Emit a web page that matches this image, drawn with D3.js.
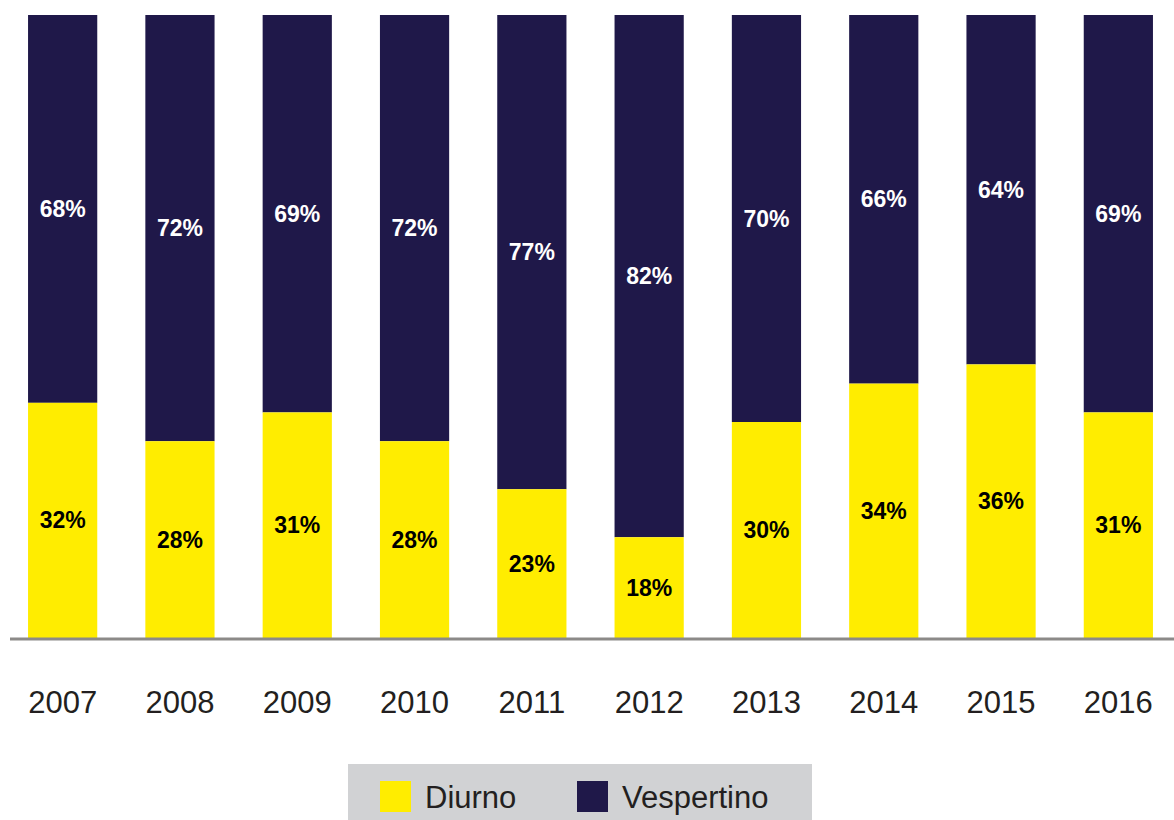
<!DOCTYPE html>
<html>
<head>
<meta charset="utf-8">
<script src="https://cdn.jsdelivr.net/npm/d3@7"></script>
<style>
  body { margin: 0; background: #fff; }
  text { font-family: "Liberation Sans", Arial, sans-serif; }
</style>
</head>
<body>
<div id="chart"></div>
<script>
// Data
var years = ["2007", "2008", "2009", "2010", "2011", "2012", "2013", "2014", "2015", "2016"];
var diurno = [32, 28, 31, 28, 23, 18, 30, 34, 36, 31];
var vespertino = [68, 72, 69, 72, 77, 82, 70, 66, 64, 69];
var seriesNames = ["Diurno", "Vespertino"];
var colors = ["#ffed00", "#1f1849"];

var width = 1174, height = 820;
var baseY = 638, topY = 15;

var svg = d3.select("#chart")
    .append("svg")
    .attr("width", width)
    .attr("height", height);

// x scale
var x = d3.scaleBand()
    .domain(years)
    .range([4, 1177])
    .paddingInner(0.41)
    .paddingOuter(0.205);

// y scale (the original chart's axis does not start at zero, tops are cut off)
var y = d3.scaleLinear()
    .domain([7.5, 72.4])
    .range([baseY, topY])
    .clamp(true);

var rows = years.map(function (yr, i) {
    return {year: yr, d: diurno[i], v: vespertino[i]};
});

// Vespertino (stacked on top)
svg.selectAll("rect.vesp")
    .data(rows)
    .enter()
    .append("rect")
    .attr("class", "vesp")
    .attr("x", function (d) { return x(d.year); })
    .attr("width", x.bandwidth())
    .attr("y", function (d) { return y(d.d + d.v); })
    .attr("height", function (d) { return y(d.d) - y(d.d + d.v); })
    .attr("fill", colors[1]);

// Diurno
svg.selectAll("rect.diur")
    .data(rows)
    .enter()
    .append("rect")
    .attr("class", "diur")
    .attr("x", function (d) { return x(d.year); })
    .attr("width", x.bandwidth())
    .attr("y", function (d) { return y(d.d); })
    .attr("height", function (d) { return y(0) - y(d.d); })
    .attr("fill", colors[0]);

// Value labels
svg.selectAll("text.lab-d")
    .data(rows)
    .enter()
    .append("text")
    .attr("x", function (d) { return x(d.year) + x.bandwidth() / 2; })
    .attr("y", function (d) { return (y(d.d) + y(0)) / 2; })
    .attr("dy", "0.35em")
    .attr("text-anchor", "middle")
    .style("font-size", "23px")
    .style("font-weight", "bold")
    .attr("fill", "#000")
    .text(function (d) { return d.d + "%"; });

svg.selectAll("text.lab-v")
    .data(rows)
    .enter()
    .append("text")
    .attr("x", function (d) { return x(d.year) + x.bandwidth() / 2; })
    .attr("y", function (d) { return (y(d.d + d.v) + y(d.d)) / 2; })
    .attr("dy", "0.35em")
    .attr("text-anchor", "middle")
    .style("font-size", "23px")
    .style("font-weight", "bold")
    .attr("fill", "#fff")
    .text(function (d) { return d.v + "%"; });

// x axis
var xAxis = svg.append("g")
    .attr("transform", "translate(0," + (baseY + 1) + ")")
    .call(d3.axisBottom(x).tickSize(0).tickPadding(52));

xAxis.select(".domain")
    .attr("d", "M10,0H" + width)
    .attr("stroke", "#8c8a88")
    .attr("stroke-width", 3);

xAxis.selectAll("text")
    .style("font-size", "31px")
    .attr("fill", "#231f20");

// Legend
var legend = svg.append("g").attr("transform", "translate(348,764)");
legend.append("rect")
    .attr("width", 464)
    .attr("height", 60)
    .attr("fill", "#d1d2d4");

var items = legend.selectAll("g.item")
    .data(seriesNames)
    .enter()
    .append("g")
    .attr("transform", function (d, i) { return "translate(" + (32 + i * 197) + ",17)"; });

items.append("rect")
    .attr("width", 31)
    .attr("height", 31)
    .attr("fill", function (d, i) { return colors[i]; });

items.append("text")
    .attr("x", 45)
    .attr("y", 15.5)
    .attr("dy", "0.36em")
    .style("font-size", "31px")
    .attr("fill", "#231f20")
    .text(function (d) { return d; });
</script>
</body>
</html>
